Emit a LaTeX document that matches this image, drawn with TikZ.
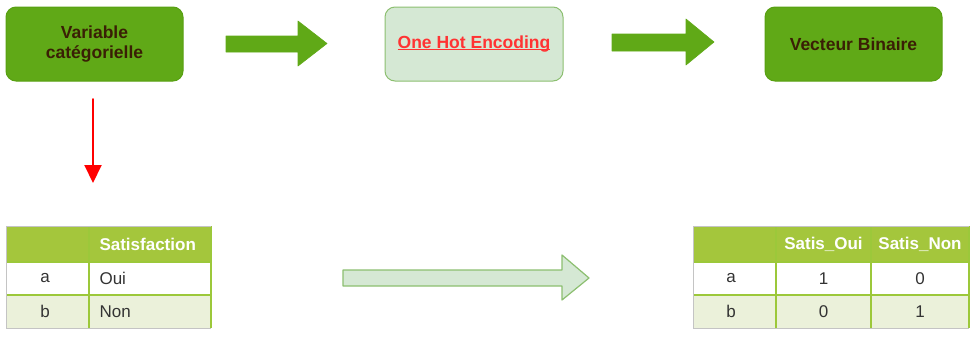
\documentclass[tikz,border=0pt]{standalone}
\usepackage{fontspec}
\setmainfont{Liberation Sans}
\usetikzlibrary{arrows.meta}

\definecolor{leaf}{HTML}{60A917}
\definecolor{leafline}{HTML}{58A012}
\definecolor{bark}{HTML}{3A1F05}
\definecolor{mint}{HTML}{D5E8D4}
\definecolor{mintline}{HTML}{8CBF70}
\definecolor{alert}{HTML}{FF3333}
\definecolor{hdr}{HTML}{A4C63C}
\definecolor{rowb}{HTML}{EBF1DA}
\definecolor{gridgreen}{HTML}{9CC83A}
\definecolor{edge}{HTML}{C4C4C4}
\definecolor{cell}{HTML}{333333}

% underline drawn through the descenders, as in the title box
\newcommand{\redul}[1]{\setbox0\hbox{#1}\rlap{\rule[-2pt]{\wd0}{1.3pt}}\box0}

\begin{document}
\begin{tikzpicture}[x=1pt,y=-1pt,
  greenbox/.style={draw=leafline, line width=1pt, fill=leaf, rounded corners=10pt,
    minimum width=177pt, minimum height=74pt, text=bark, align=center,
    font=\fontsize{17.5}{20}\selectfont\bfseries},
  mintbox/.style={draw=mintline, line width=1pt, fill=mint, rounded corners=10pt,
    minimum width=178pt, minimum height=74pt, text=alert,
    font=\fontsize{17.5}{20}\selectfont\bfseries},
  blockarrow/.style={fill=leaf, draw=leaf, line width=0.6pt, line join=round},
  lightarrow/.style={fill=mint, draw=mintline, line width=1.2pt, line join=round},
  gridline/.style={draw=gridgreen, line width=1.4pt},
  outline/.style={draw=edge, line width=1pt},
  headtext/.style={text=white, font=\fontsize{17}{20}\selectfont\bfseries},
  celltext/.style={text=cell, font=\fontsize{17}{20}\selectfont},
]
\useasboundingbox (0,0) rectangle (977,338);

% top row of boxes
\node[greenbox] (var) at (94.5,44) {Variable\\catégorielle};
\node[mintbox] (ohe) at (474,44) {\redul{One Hot Encoding}};
\node[greenbox] (vec) at (853.5,44) {Vecteur Binaire};

% block arrows between the boxes
\draw[blockarrow] (226,36) -- (298,36) -- (298,21) -- (327,43.5) -- (298,66)
  -- (298,52) -- (226,52) -- cycle;
\draw[blockarrow] (612,34) -- (686,34) -- (686,19) -- (714,42) -- (686,65)
  -- (686,51) -- (612,51) -- cycle;

% red arrow down to the source table
\coordinate (redtop) at (93,99);
\coordinate (redbot) at (93,183);
\draw[red, line width=2pt, line cap=round,
  -{Triangle[length=18pt,width=17pt]}] (redtop) -- (redbot);

% source table
\fill[hdr] (6,226) rectangle (211,262);
\fill[white] (6,262) rectangle (211,295);
\fill[rowb] (6,295) rectangle (211,328);
\draw[gridline] (6,262) -- (211,262) (6,295) -- (211,295) (89,226) -- (89,328)
  (211,226) -- (211,328);
\draw[outline] (6,226) -- (211,226) (6,226) -- (6,328) -- (211,328);
\node[headtext, anchor=west] (t1h) at (96,244) {Satisfaction};
\node[celltext] (t1ra) at (45,278.5) {a};
\node[celltext, anchor=west] (t1va) at (96,278.5) {Oui};
\node[celltext] (t1rb) at (45,311.5) {b};
\node[celltext, anchor=west] (t1vb) at (96,311.5) {Non};

% light transformation arrow
\draw[lightarrow] (343,270) -- (562,270) -- (562,255) -- (589,278) -- (562,300)
  -- (562,286) -- (343,286) -- cycle;

% encoded table
\fill[hdr] (693,226) rectangle (969,262);
\fill[white] (693,262) rectangle (969,295);
\fill[rowb] (693,295) rectangle (969,328);
\draw[gridline] (693,262) -- (969,262) (693,295) -- (969,295)
  (776,226) -- (776,328) (871,226) -- (871,328) (969,226) -- (969,328);
\draw[outline] (693,226) -- (969,226) (693,226) -- (693,328) -- (969,328);
\node[headtext] (t2h1) at (823.5,244) {Satis\_Oui};
\node[headtext] (t2h2) at (920,244) {Satis\_Non};
\node[celltext] (t2ra) at (731,278.5) {a};
\node[celltext] (t2a1) at (823.5,278.5) {1};
\node[celltext] (t2a2) at (920,278.5) {0};
\node[celltext] (t2rb) at (731,311.5) {b};
\node[celltext] (t2b1) at (823.5,311.5) {0};
\node[celltext] (t2b2) at (920,311.5) {1};
\end{tikzpicture}
\end{document}
